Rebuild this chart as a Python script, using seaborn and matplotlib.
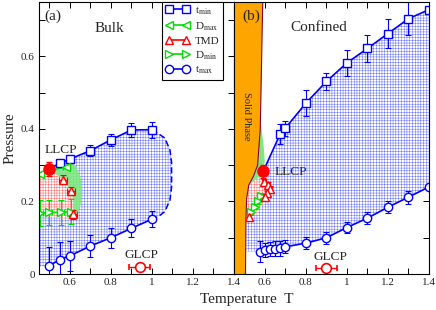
import matplotlib
matplotlib.use('Agg')
import matplotlib.pyplot as plt
import seaborn as sns
from matplotlib.lines import Line2D
from matplotlib.ticker import MultipleLocator, FuncFormatter

# ---- (a) bulk ----
bulk_tmin_T = [0.55, 0.60, 0.70, 0.80, 0.90, 1.00]
bulk_tmin_P = [0.305, 0.317, 0.340, 0.370, 0.397, 0.398]
bulk_tmin_err = [0.010, 0.012, 0.015, 0.017, 0.018, 0.022]
bulk_tmax_T = [0.50, 0.55, 0.60, 0.70, 0.80, 0.90, 1.00]
bulk_tmax_P = [0.023, 0.039, 0.050, 0.077, 0.100, 0.126, 0.151]
bulk_tmax_err = [0.052, 0.048, 0.042, 0.030, 0.027, 0.025, 0.022]
bulk_tmd_T = [0.567, 0.606, 0.615]
bulk_tmd_P = [0.260, 0.229, 0.165]
bulk_dmax_T = [0.455, 0.580]
bulk_dmax_P = [0.276, 0.296]
bulk_dmin_T = [0.455, 0.500, 0.555, 0.605]
bulk_dmin_P = [0.168, 0.170, 0.170, 0.172]
bulk_llcp = (0.50, 0.290)
bulk_glcp = (0.94, 0.018)
# dashed closing edge of the bulk anomaly region
bulk_edge_T = [1.0, 1.015, 1.063, 1.088, 1.096, 1.096, 1.088, 1.063, 1.031, 1.0]
bulk_edge_P = [0.398, 0.393, 0.375, 0.342, 0.307, 0.24, 0.204, 0.172, 0.158, 0.151]
bulk_green_T = [0.50, 0.55, 0.60, 0.63, 0.652, 0.66, 0.655, 0.64, 0.615, 0.60, 0.455]
bulk_green_P = [0.292, 0.306, 0.312, 0.298, 0.27, 0.23, 0.195, 0.168, 0.152, 0.16, 0.272]
bulk_red_T = [0.45, 0.50, 0.567, 0.606, 0.618, 0.618, 0.60, 0.45]
bulk_red_P = [0.274, 0.290, 0.260, 0.229, 0.20, 0.150, 0.150, 0.160]

# ---- (b) confined ----
conf_tmin_T = [0.675, 0.70, 0.80, 0.90, 1.00, 1.10, 1.20, 1.30, 1.40]
conf_tmin_P = [0.386, 0.402, 0.471, 0.531, 0.582, 0.622, 0.663, 0.704, 0.729]
conf_tmin_err = [0.028, 0.021, 0.035, 0.023, 0.037, 0.038, 0.040, 0.046, 0.0]
conf_tmax_T = [0.575, 0.60, 0.625, 0.65, 0.675, 0.70, 0.80, 0.90, 1.00, 1.10, 1.20, 1.30, 1.40]
conf_tmax_P = [0.062, 0.066, 0.069, 0.070, 0.071, 0.075, 0.085, 0.100, 0.128, 0.154, 0.184, 0.212, 0.240]
conf_tmax_err = [0.028, 0.02, 0.02, 0.02, 0.02, 0.018, 0.016, 0.016, 0.016, 0.016, 0.017, 0.018, 0.0]
conf_tmd_T = [0.595, 0.615, 0.625, 0.610, 0.600, 0.525]
conf_tmd_P = [0.253, 0.245, 0.235, 0.222, 0.212, 0.158]
conf_dmin_T = [0.580, 0.565, 0.550, 0.535]
conf_dmin_P = [0.214, 0.200, 0.186, 0.172]
conf_llcp = (0.592, 0.283)
conf_glcp = (0.90, 0.016)
solid_edge_T = [0.506, 0.508, 0.512, 0.522, 0.545, 0.565, 0.578, 0.590]
solid_edge_P = [0.0, 0.150, 0.210, 0.245, 0.270, 0.300, 0.400, 0.750]
conf_green_T = [0.578, 0.595, 0.600, 0.592, 0.570, 0.540, 0.522, 0.545, 0.565]
conf_green_P = [0.430, 0.350, 0.310, 0.283, 0.262, 0.250, 0.245, 0.270, 0.300]
conf_red_T = [0.592, 0.612, 0.632, 0.628, 0.600, 0.575, 0.550, 0.530, 0.510, 0.512, 0.522, 0.545, 0.570]
conf_red_P = [0.283, 0.262, 0.240, 0.212, 0.198, 0.180, 0.160, 0.148, 0.148, 0.210, 0.245, 0.256, 0.266]

BLUE = '#0000ff'
GREEN = '#00dd00'
RED = '#ff0000'
HATCH_BLUE = '#4f5cff'
HATCH_RED = '#ff5050'

sns.set_theme(style='ticks')
plt.rcParams['font.family'] = ['Liberation Serif', 'DejaVu Serif']
plt.rcParams['mathtext.fontset'] = 'stix'
plt.rcParams['hatch.linewidth'] = 0.3

fig = plt.figure(figsize=(4.36, 3.10), dpi=100)
ax1 = fig.add_axes([39 / 436, 36 / 310, 195 / 436, 272 / 310])
ax2 = fig.add_axes([234 / 436, 36 / 310, 195 / 436, 272 / 310])


def series(ax, T, P, color, marker, err=None, xerr=None, lw=1.2, line=True, z=5):
    if line:
        sns.lineplot(x=T, y=P, ax=ax, color=color, lw=lw, estimator=None,
                     sort=False, errorbar=None, zorder=z)
    if err is not None or xerr is not None:
        ax.errorbar(T, P, yerr=err, xerr=xerr, fmt='none', ecolor=color,
                    elinewidth=0.8, capsize=2.5, capthick=0.8, zorder=z)
    ax.plot(T, P, ls='none', marker=marker, ms=6, mfc='white', mec=color,
            mew=1.0, zorder=z + 1)


# ---------- panel (a) ----------
reg_T = [bulk_llcp[0]] + bulk_tmin_T + bulk_edge_T[1:-1] + bulk_tmax_T[::-1] + [0.45, 0.45]
reg_P = [bulk_llcp[1]] + bulk_tmin_P + bulk_edge_P[1:-1] + bulk_tmax_P[::-1] + [0.02, 0.274]
ax1.fill(reg_T, reg_P, facecolor='white', edgecolor=HATCH_BLUE, lw=0, hatch='++++++', zorder=1)
ax1.fill(bulk_green_T, bulk_green_P, facecolor='#7ee87e', edgecolor='none', alpha=0.9, zorder=2)
ax1.fill(bulk_red_T, bulk_red_P, facecolor='white', edgecolor=HATCH_RED, lw=0, hatch='++++++', zorder=2.5)
ax1.plot(bulk_edge_T, bulk_edge_P, color=BLUE, lw=1.1, ls=(0, (4, 2)), zorder=4)

sns.lineplot(x=[bulk_llcp[0]] + bulk_tmin_T, y=[bulk_llcp[1]] + bulk_tmin_P, ax=ax1,
             color=BLUE, lw=1.2, estimator=None, sort=False, errorbar=None, zorder=5)
series(ax1, bulk_tmin_T, bulk_tmin_P, BLUE, 's', err=bulk_tmin_err, line=False)
series(ax1, bulk_tmax_T, bulk_tmax_P, BLUE, 'o', err=bulk_tmax_err)
series(ax1, bulk_dmin_T, bulk_dmin_P, GREEN, '>', err=0.035, xerr=0.015, lw=1.0)
series(ax1, bulk_dmax_T, bulk_dmax_P, GREEN, '<', xerr=0.015, lw=1.0)
series(ax1, bulk_tmd_T, bulk_tmd_P, RED, '^', err=0.012, xerr=0.018, lw=0.8, line=False)
ax1.errorbar([bulk_llcp[0]], [bulk_llcp[1]], yerr=0.02, fmt='o', ms=8, color=RED,
             elinewidth=0.8, capsize=2.5, zorder=8)
ax1.errorbar([bulk_glcp[0]], [bulk_glcp[1]], xerr=0.052, fmt='o', ms=7, mfc='white',
             mec=RED, mew=1.2, ecolor=RED, elinewidth=1.0, capsize=2.5, zorder=8)

ax1.text(0.517, 0.71, '(a)', fontsize=11, ha='center', va='center')
ax1.text(0.795, 0.677, 'Bulk', fontsize=11, ha='center', va='center')
ax1.text(0.556, 0.343, 'LLCP', fontsize=9.5, ha='center', va='center')
ax1.text(0.951, 0.052, 'GLCP', fontsize=9.5, ha='center', va='center')

# ---------- panel (b) ----------
solid_T = [0.45] + solid_edge_T + [0.45]
solid_P = [0.0] + solid_edge_P + [0.75]
reg2_T = [conf_llcp[0]] + conf_tmin_T + conf_tmax_T[::-1] + [0.508, 0.512, 0.545]
reg2_P = [conf_llcp[1]] + conf_tmin_P + conf_tmax_P[::-1] + [0.062, 0.210, 0.270]
ax2.fill(reg2_T, reg2_P, facecolor='white', edgecolor=HATCH_BLUE, lw=0, hatch='++++++', zorder=1)
ax2.fill(conf_green_T, conf_green_P, facecolor='#7ee87e', edgecolor='none', zorder=2)
ax2.fill(conf_red_T, conf_red_P, facecolor='white', edgecolor=HATCH_RED, lw=0, hatch='++++++', zorder=2.5)
ax2.fill(solid_T, solid_P, facecolor='#ffa500', edgecolor='none', zorder=3)
ax2.plot(solid_edge_T, solid_edge_P, color='#800040', lw=0.8, zorder=3.5)

sns.lineplot(x=[conf_llcp[0]] + conf_tmin_T, y=[conf_llcp[1]] + conf_tmin_P, ax=ax2,
             color=BLUE, lw=1.2, estimator=None, sort=False, errorbar=None, zorder=5)
series(ax2, conf_tmin_T, conf_tmin_P, BLUE, 's', err=conf_tmin_err, line=False)
series(ax2, conf_tmax_T, conf_tmax_P, BLUE, 'o', err=conf_tmax_err)
series(ax2, conf_dmin_T, conf_dmin_P, GREEN, '>', err=0.008, xerr=0.008, lw=1.0)
series(ax2, conf_tmd_T, conf_tmd_P, RED, '^', err=0.008, xerr=0.01, line=False)
ax2.errorbar([conf_llcp[0]], [conf_llcp[1]], yerr=0.018, fmt='o', ms=8, color=RED,
             elinewidth=0.8, capsize=2.5, zorder=8)
ax2.errorbar([conf_glcp[0]], [conf_glcp[1]], xerr=0.052, fmt='o', ms=7, mfc='white',
             mec=RED, mew=1.2, ecolor=RED, elinewidth=1.0, capsize=2.5, zorder=8)

ax2.text(0.533, 0.71, '(b)', fontsize=11, ha='center', va='center', zorder=9)
ax2.text(0.863, 0.68, 'Confined', fontsize=11, ha='center', va='center')
ax2.text(0.513, 0.434, 'Solid Phase', fontsize=7.5, rotation=-90, ha='center', va='center', zorder=9)
ax2.text(0.727, 0.282, 'LLCP', fontsize=9.5, ha='center', va='center')
ax2.text(0.921, 0.047, 'GLCP', fontsize=9.5, ha='center', va='center')

fmt = FuncFormatter(lambda v, p: '%g' % round(v, 2))
for ax in (ax1, ax2):
    ax.set_xlim(0.45, 1.4)
    ax.set_ylim(0, 0.75)
    ax.xaxis.set_major_locator(MultipleLocator(0.2))
    ax.xaxis.set_minor_locator(MultipleLocator(0.1))
    ax.yaxis.set_major_locator(MultipleLocator(0.2))
    ax.yaxis.set_minor_locator(MultipleLocator(0.1))
    ax.xaxis.set_major_formatter(fmt)
    ax.yaxis.set_major_formatter(fmt)
    ax.tick_params(which='both', direction='in', top=True, right=True,
                   labelsize=8, color='black', width=0.7, pad=3)
    ax.tick_params(which='major', length=4)
    ax.tick_params(which='minor', length=4)
    for s in ax.spines.values():
        s.set_linewidth(0.8)
        s.set_color('black')
        s.set_zorder(10)
ax2.tick_params(labelleft=False)
ax1.set_ylabel('Pressure', fontsize=11, labelpad=3)

handles = [
    Line2D([], [], color=BLUE, marker='s', ms=6, mfc='white', mec=BLUE, lw=1.2),
    Line2D([], [], color=GREEN, marker='<', ms=6, mfc='white', mec=GREEN, lw=1.2),
    Line2D([], [], color=RED, marker='^', ms=6, mfc='white', mec=RED, lw=1.2),
    Line2D([], [], color=GREEN, marker='>', ms=6, mfc='white', mec=GREEN, lw=1.2),
    Line2D([], [], color=BLUE, marker='o', ms=6, mfc='white', mec=BLUE, lw=1.2),
]
labels = [r't$_{\rm min}$', r'D$_{\rm max}$', 'TMD', r'D$_{\rm min}$', r't$_{\rm max}$']
leg = ax1.legend(handles, labels, loc='upper right', bbox_to_anchor=(0.942, 1.0),
                 borderaxespad=0, numpoints=2, handlelength=2.1, handletextpad=0.5,
                 fontsize=8, labelspacing=0.3, borderpad=0.3, fancybox=False,
                 framealpha=1, edgecolor='black')
leg.get_frame().set_linewidth(0.8)
leg.set_zorder(20)

fig.text(0.567, 0.035, 'Temperature  T', fontsize=11, ha='center', va='center')

fig.savefig('out.png', dpi=100)
